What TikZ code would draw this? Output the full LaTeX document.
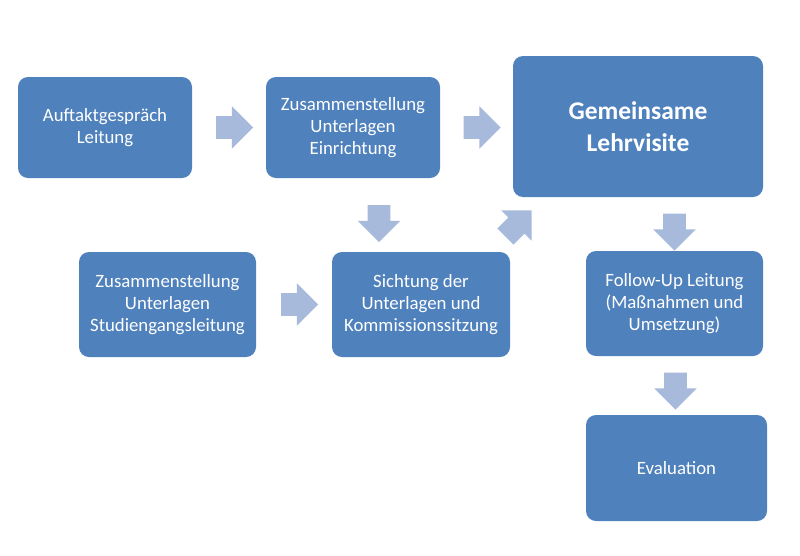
\documentclass[tikz,border=0pt]{standalone}
\usepackage{fontspec}
\setmainfont{Carlito}
\usetikzlibrary{calc,shapes.arrows}
\definecolor{boxblue}{RGB}{79,129,189}
\definecolor{arrowblue}{RGB}{168,186,219}
\tikzset{
  stepbox/.style={
    rectangle,
    rounded corners=0.2cm,
    fill=boxblue,
    draw=none,
    text=white,
    align=center,
    inner sep=2pt,
    font=\fontsize{10.7}{12.3}\selectfont
  },
  flow/.style={
    single arrow,
    fill=arrowblue,
    draw=none,
    inner sep=0.22cm,
    minimum height=0.74cm,
    single arrow head extend=0.2cm,
    single arrow head indent=0pt
  }
}

\begin{document}
\begin{tikzpicture}
  \useasboundingbox (0,0) rectangle (16,11.1);
  % boxes
  \node[stepbox, minimum width=3.48cm, minimum height=2.02cm] (auftakt) at (2.10,8.55)
    {Auftaktgespräch\\Leitung};
  \node[stepbox, minimum width=3.48cm, minimum height=2.02cm] (einr) at (7.06,8.55)
    {Zusammenstellung\\Unterlagen\\Einrichtung};
  \node[stepbox, minimum width=5.0cm, minimum height=2.82cm,
    font=\fontsize{14.5}{18.5}\selectfont\bfseries] (lehr) at (12.76,8.57)
    {Gemeinsame\\Lehrvisite};
  \node[stepbox, minimum width=3.54cm, minimum height=2.10cm] (stud) at (3.35,5.01)
    {Zusammenstellung\\Unterlagen\\Studiengangsleitung};
  \node[stepbox, minimum width=3.56cm, minimum height=2.10cm] (sicht) at (8.42,5.01)
    {Sichtung der\\Unterlagen und\\Kommissionssitzung};
  \node[stepbox, minimum width=3.54cm, minimum height=2.10cm] (follow) at (13.49,5.03)
    {Follow-Up Leitung\\(Maßnahmen und\\Umsetzung)};
  \node[stepbox, minimum width=3.62cm, minimum height=2.12cm] (eval) at (13.53,1.74)
    {Evaluation};
  % block arrows
  \node[flow] (a1) at ($(auftakt.east)!0.5!(einr.west)$) {};
  \node[flow] (a2) at ($(einr.east)!0.5!(einr.east -| lehr.west)$) {};
  \node[flow, rotate=-90] (a3) at ($(einr.south)!0.5!(sicht.north)+(-0.16,-0.06)$) {};
  \node[flow] (a4) at ($(stud.east)!0.5!(sicht.west)$) {};
  \node[flow, rotate=45] (a5) at ($(sicht.north east)!0.5!(lehr.south west)+(0.06,-0.06)$) {};
  \node[flow, rotate=-90] (a6) at ($(lehr.south -| follow.north)!0.5!(follow.north)+(0,-0.05)$) {};
  \node[flow, rotate=-90] (a7) at ($(follow.south)!0.5!(eval.north)$) {};
\end{tikzpicture}
\end{document}
